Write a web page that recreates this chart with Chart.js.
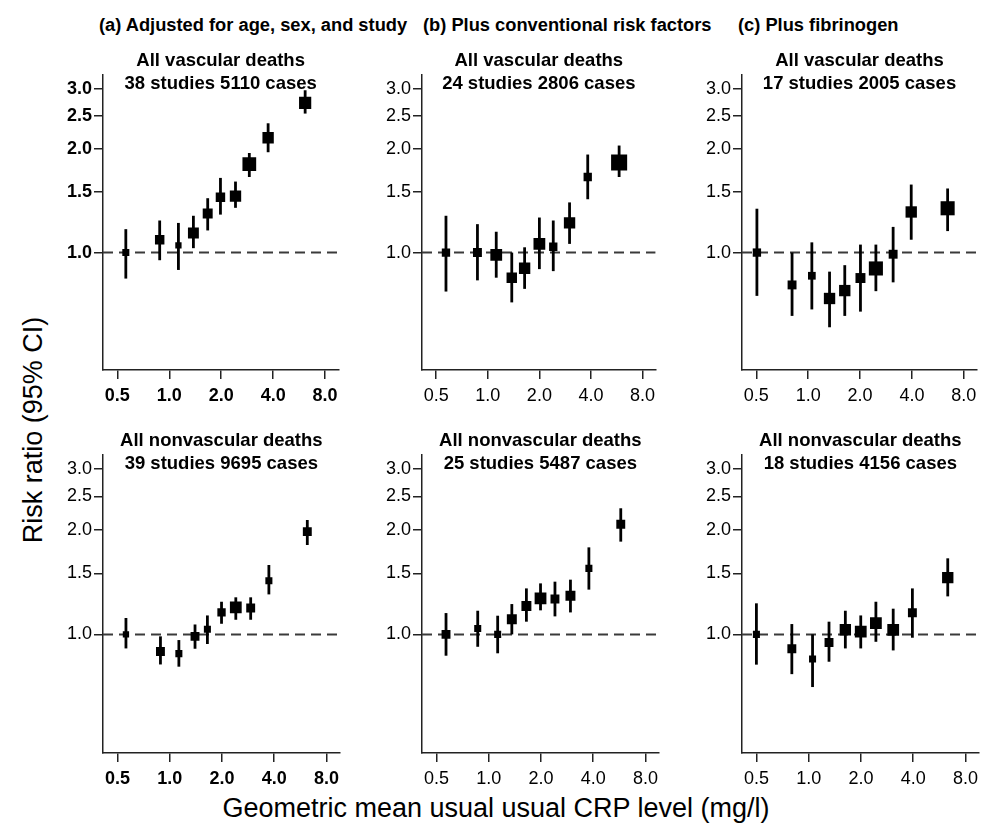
<!DOCTYPE html>
<html>
<head>
<meta charset="utf-8">
<script src="https://cdn.jsdelivr.net/npm/chart.js@4.4.1/dist/chart.umd.min.js"></script>
<style>
  body { margin: 0; background: #fff; }
  #wrap { position: relative; width: 990px; height: 830px; font-family: "Liberation Sans", Arial, sans-serif; color: #000; }
  canvas { position: absolute; }
  .hdr { position: absolute; top: 16px; font-weight: bold; font-size: 18.3px; line-height: 18px; white-space: nowrap; }
  .axt { position: absolute; font-size: 27px; line-height: 27px; white-space: nowrap; }
</style>
</head>
<body>
<div id="wrap">
  <div class="hdr" style="left:99px">(a) Adjusted for age, sex, and study</div>
  <div class="hdr" style="left:423px">(b) Plus conventional risk factors</div>
  <div class="hdr" style="left:738px">(c) Plus fibrinogen</div>
  <div class="axt" style="left:33px;top:430px;transform:translate(-50%,-50%) rotate(-90deg)">Risk ratio (95% CI)</div>
  <div class="axt" style="left:0;width:992px;text-align:center;top:795px">Geometric mean usual usual CRP level (mg/l)</div>
  <canvas id="c1"></canvas><canvas id="c2"></canvas><canvas id="c3"></canvas>
  <canvas id="c4"></canvas><canvas id="c5"></canvas><canvas id="c6"></canvas>
</div>
<script>
// tick values
const xTicks = [0.5, 1, 2, 4, 8];
const yTicks = [1.0, 1.5, 2.0, 2.5, 3.0];

// (a) top: all vascular deaths, adjusted for age, sex and study
const vascA_x  = [0.56, 0.88, 1.13, 1.38, 1.67, 1.98, 2.42, 2.91, 3.74, 6.13];
const vascA_rr = [1.00, 1.09, 1.05, 1.14, 1.30, 1.45, 1.46, 1.81, 2.16, 2.73];
const vascA_lo = [0.84, 0.95, 0.89, 1.03, 1.16, 1.29, 1.35, 1.66, 1.96, 2.54];
const vascA_hi = [1.17, 1.24, 1.22, 1.28, 1.44, 1.65, 1.61, 1.95, 2.38, 2.97];
const vascA_w  = [5, 9, 4, 12, 10, 9, 13, 19, 13, 15];

// (b) top
const vascB_x  = [0.57, 0.87, 1.12, 1.38, 1.64, 2.00, 2.41, 3.00, 3.83, 5.84];
const vascB_rr = [1.00, 1.00, 0.985, 0.845, 0.90, 1.06, 1.04, 1.22, 1.66, 1.83];
const vascB_lo = [0.77, 0.83, 0.845, 0.716, 0.784, 0.895, 0.883, 1.06, 1.43, 1.66];
const vascB_hi = [1.28, 1.21, 1.15, 1.00, 1.036, 1.265, 1.24, 1.40, 1.93, 2.05];
const vascB_w  = [7, 8, 14, 11, 13, 14, 7, 13, 7, 26];

// (c) top
const vascC_x  = [0.504, 0.806, 1.05, 1.33, 1.63, 2.01, 2.47, 3.11, 3.96, 6.44];
const vascC_rr = [1.00, 0.805, 0.856, 0.735, 0.775, 0.843, 0.899, 0.989, 1.313, 1.346];
const vascC_lo = [0.748, 0.654, 0.683, 0.606, 0.654, 0.673, 0.772, 0.819, 1.09, 1.155];
const vascC_hi = [1.342, 1.0, 1.071, 0.88, 0.919, 1.055, 1.055, 1.188, 1.578, 1.537];
const vascC_w  = [7, 8, 6, 13, 13, 10, 20, 8, 13, 20];

// (a) bottom: all nonvascular deaths
const nonvA_x  = [0.56, 0.885, 1.13, 1.40, 1.65, 1.99, 2.405, 2.93, 3.73, 6.21];
const nonvA_rr = [1.00, 0.893, 0.88, 0.987, 1.034, 1.157, 1.196, 1.191, 1.428, 1.978];
const nonvA_lo = [0.911, 0.819, 0.807, 0.909, 0.938, 1.073, 1.102, 1.102, 1.304, 1.81];
const nonvA_hi = [1.115, 0.987, 0.963, 1.068, 1.134, 1.242, 1.279, 1.279, 1.585, 2.137];
const nonvA_w  = [4, 8, 5, 8, 5, 7, 14, 8, 5, 8];

// (b) bottom
const nonvB_x  = [0.568, 0.865, 1.127, 1.36, 1.65, 1.99, 2.41, 2.96, 3.78, 5.77];
const nonvB_rr = [1.00, 1.04, 1.00, 1.105, 1.207, 1.27, 1.265, 1.293, 1.55, 2.077];
const nonvB_lo = [0.868, 0.921, 0.882, 1.0, 1.088, 1.173, 1.127, 1.157, 1.346, 1.851];
const nonvB_hi = [1.152, 1.17, 1.132, 1.223, 1.357, 1.403, 1.419, 1.438, 1.782, 2.31];
const nonvB_w  = [8, 5, 5, 10, 10, 14, 8, 10, 5, 8];

// (c) bottom
const nonvC_x  = [0.50, 0.80, 1.053, 1.31, 1.627, 1.996, 2.44, 3.07, 3.96, 6.33];
const nonvC_rr = [1.00, 0.909, 0.849, 0.948, 1.031, 1.018, 1.078, 1.031, 1.155, 1.457];
const nonvC_lo = [0.818, 0.768, 0.705, 0.834, 0.911, 0.911, 0.952, 0.899, 0.978, 1.287];
const nonvC_hi = [1.229, 1.071, 1.0, 1.088, 1.17, 1.134, 1.242, 1.186, 1.357, 1.657];
const nonvC_w  = [5, 8, 5, 8, 13, 14, 14, 14, 8, 13];

const X_MIN = 0.413, X_MAX = 9.54;
const Y_MIN = 0.455, Y_MAX = 3.29;
const FONT = '"Liberation Sans", Arial, sans-serif';

// vertical CI lines, drawn just under the boxes
const errorBars = {
    id: 'errorBars',
    beforeDatasetDraw(chart, args) {
        if (args.index !== 0) return;
        const ds = chart.data.datasets[0];
        const xs = chart.scales.x, ys = chart.scales.y;
        const ctx = chart.ctx;
        ctx.save();
        ctx.strokeStyle = '#000';
        ctx.lineWidth = 2.8;
        ds.data.forEach((p, i) => {
            const px = xs.getPixelForValue(p.x);
            ctx.beginPath();
            ctx.moveTo(px, ys.getPixelForValue(ds.lo[i]));
            ctx.lineTo(px, ys.getPixelForValue(ds.hi[i]));
            ctx.stroke();
        });
        ctx.restore();
    }
};

function panel(id, pos, title, x, rr, lo, hi, w, boldX, boldY) {
    const cv = document.getElementById(id);
    const plotW = 245;
    cv.width = 50 + plotW;
    cv.height = 35 + pos.h + 40;
    cv.style.left = (pos.left - 50) + 'px';
    cv.style.top = (pos.top - 35) + 'px';

    new Chart(cv, {
        type: 'scatter',
        data: {
            datasets: [
                {
                    data: x.map((v, i) => ({ x: v, y: rr[i] })),
                    lo: lo,
                    hi: hi,
                    pointStyle: 'rect',
                    pointRadius: w.map(v => 3.15 * Math.sqrt(v) / Math.SQRT2),
                    pointBorderWidth: 0,
                    backgroundColor: '#000',
                    order: 0
                },
                {
                    type: 'line',
                    data: [{ x: X_MIN, y: 1 }, { x: X_MAX, y: 1 }],
                    borderColor: '#3a3a3a',
                    borderWidth: 2,
                    borderDash: [10, 6],
                    pointRadius: 0,
                    order: 1
                }
            ]
        },
        options: {
            responsive: false,
            animation: false,
            devicePixelRatio: 1,
            layout: { padding: 0 },
            plugins: {
                legend: { display: false },
                tooltip: { enabled: false },
                title: {
                    display: true,
                    text: title,
                    fullSize: false,
                    color: '#000',
                    font: { family: FONT, size: 18.5, weight: 'bold', lineHeight: 1.25 },
                    padding: { top: 9, bottom: -20.25 }
                }
            },
            scales: {
                x: {
                    type: 'logarithmic',
                    min: X_MIN,
                    max: X_MAX,
                    afterBuildTicks: s => { s.ticks = xTicks.map(v => ({ value: v })); },
                    afterFit: s => { s.height = 40; s.paddingLeft = 0; s.paddingRight = 0; },
                    border: { display: true, color: '#222', width: 1.5 },
                    grid: { drawOnChartArea: false, drawTicks: true, tickLength: 9, color: '#222', lineWidth: 1.5 },
                    ticks: {
                        autoSkip: false, maxRotation: 0, padding: 6, color: '#000',
                        font: { family: FONT, size: 18, weight: boldX ? 'bold' : 'normal' },
                        callback: v => Number(v).toFixed(1)
                    }
                },
                y: {
                    type: 'logarithmic',
                    min: Y_MIN,
                    max: Y_MAX,
                    afterBuildTicks: s => { s.ticks = yTicks.map(v => ({ value: v })); },
                    afterFit: s => { s.width = 50; s.paddingTop = 0; s.paddingBottom = 0; },
                    border: { display: true, color: '#222', width: 1.5 },
                    grid: { drawOnChartArea: false, drawTicks: true, tickLength: 9, color: '#222', lineWidth: 1.5 },
                    ticks: {
                        autoSkip: false, padding: 2, color: '#000',
                        font: { family: FONT, size: 18, weight: boldY ? 'bold' : 'normal' },
                        callback: v => Number(v).toFixed(1)
                    }
                }
            }
        },
        plugins: [errorBars]
    });
}

document.addEventListener('DOMContentLoaded', function () {
    const top = { top: 75, h: 295 }, bot = { top: 455, h: 298 };
    panel('c1', { left: 103, ...top }, ['All vascular deaths', '38 studies 5110 cases'],
        vascA_x, vascA_rr, vascA_lo, vascA_hi, vascA_w, true, true);
    panel('c2', { left: 422, ...top }, ['All vascular deaths', '24 studies 2806 cases'],
        vascB_x, vascB_rr, vascB_lo, vascB_hi, vascB_w, false, false);
    panel('c3', { left: 742, ...top }, ['All vascular deaths', '17 studies 2005 cases'],
        vascC_x, vascC_rr, vascC_lo, vascC_hi, vascC_w, false, false);
    panel('c4', { left: 103, ...bot }, ['All nonvascular deaths', '39 studies 9695 cases'],
        nonvA_x, nonvA_rr, nonvA_lo, nonvA_hi, nonvA_w, true, false);
    panel('c5', { left: 422, ...bot }, ['All nonvascular deaths', '25 studies 5487 cases'],
        nonvB_x, nonvB_rr, nonvB_lo, nonvB_hi, nonvB_w, false, false);
    panel('c6', { left: 742, ...bot }, ['All nonvascular deaths', '18 studies 4156 cases'],
        nonvC_x, nonvC_rr, nonvC_lo, nonvC_hi, nonvC_w, false, false);
});
</script>
</body>
</html>
